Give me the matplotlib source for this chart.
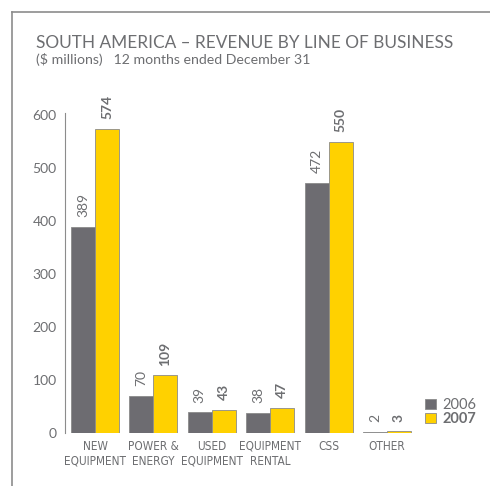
import matplotlib.pyplot as plt
from matplotlib import font_manager
from matplotlib.lines import Line2D
from matplotlib.patches import Patch
import numpy as np

categories = ['NEW\nEQUIPMENT', 'POWER &\nENERGY', 'USED\nEQUIPMENT',
              'EQUIPMENT\nRENTAL', 'CSS', 'OTHER']
rev_2006 = [389, 70, 39, 38, 472, 2]
rev_2007 = [574, 109, 43, 47, 550, 3]
yticks = [0, 100, 200, 300, 400, 500, 600]

GRAY = '#6d6c71'
YELLOW = '#ffd100'
TEXT = '#6d6e71'
LINE = '#8c8c8c'

plt.rcParams['font.family'] = ['Lato', 'DejaVu Sans']


def narrow_font():
    # pick a condensed sans face for the category labels if one is installed
    narrow = ('condensed', 'semi-condensed', 'extra-condensed', 'ultra-condensed')
    found = []
    for f in font_manager.fontManager.ttflist:
        if f.style != 'normal' or f.weight not in (400, 'normal', 'regular'):
            continue
        if 'Narrow' in f.name or 'Condensed' in f.name or f.stretch in narrow:
            if 'Serif' not in f.name and 'Mono' not in f.name:
                found.append(f)
    found.sort(key=lambda f: ('Sans' not in f.name, f.name))
    if found:
        return font_manager.FontProperties(fname=found[0].fname, size=8.5)
    return font_manager.FontProperties(family='Roboto', size=7.3)


cat_fp = narrow_font()

fig = plt.figure(figsize=(4.9, 4.86), dpi=100)
fig.patch.set_facecolor('white')

# frame on the top and left edge
fig.add_artist(Line2D([12 / 490, 1], [1 - 12 / 486, 1 - 12 / 486], color=LINE, lw=1.2))
fig.add_artist(Line2D([12 / 490, 12 / 490], [0, 1 - 12 / 486], color=LINE, lw=1.2))

fig.text(36 / 490, 1 - 48 / 486, 'SOUTH AMERICA \u2013 REVENUE BY LINE OF BUSINESS',
         fontsize=12.4, color=TEXT, va='baseline')
fig.text(36 / 490, 1 - 64 / 486, '($ millions)   12 months ended December 31',
         fontsize=10.2, color=TEXT, va='baseline')

ax = fig.add_axes([65 / 490, 53 / 486, 350 / 490, 320 / 486])
x = np.arange(len(categories))
w = 0.41

ax.bar(x - w / 2, rev_2006, w, color=GRAY, edgecolor='#8a8a8a', linewidth=0.6)
ax.bar(x + w / 2, rev_2007, w, color=YELLOW, edgecolor='#8a8a8a', linewidth=0.6)

for xi, v in zip(x - w / 2, rev_2006):
    ax.annotate(str(v), (xi, v), xytext=(0, 7), textcoords='offset points',
                rotation=90, ha='center', va='bottom', fontsize=10, color=TEXT)
for xi, v in zip(x + w / 2, rev_2007):
    ax.annotate(str(v), (xi, v), xytext=(0, 7), textcoords='offset points',
                rotation=90, ha='center', va='bottom', fontsize=10, color=TEXT,
                fontweight='bold')

ax.set_xlim(-0.514, 5.48)
ax.set_ylim(0, 604)
ax.set_yticks(yticks)
ax.set_yticklabels([str(t) for t in yticks])
ax.tick_params(axis='y', length=0, pad=6, labelsize=10, labelcolor=TEXT)
ax.set_xticks(x)
ax.set_xticklabels(categories, fontproperties=cat_fp, color=TEXT, linespacing=1.2)
ax.tick_params(axis='x', length=0, pad=5)
for s in ['top', 'right', 'bottom']:
    ax.spines[s].set_visible(False)
ax.spines['left'].set_color(LINE)
ax.spines['left'].set_linewidth(0.8)

handles = [Patch(facecolor=GRAY, edgecolor='#8a8a8a', linewidth=0.6),
           Patch(facecolor=YELLOW, edgecolor='#8a8a8a', linewidth=0.6)]
leg = fig.legend(handles, ['2006', '2007'], loc='lower left',
                 bbox_to_anchor=(418 / 490, 53 / 486), frameon=False,
                 fontsize=10.5, handlelength=0.7, handleheight=0.7,
                 handletextpad=0.5, labelspacing=0.0, borderpad=0)
for t in leg.get_texts():
    t.set_color(TEXT)
leg.get_texts()[1].set_fontweight('bold')

fig.savefig('out.png', dpi=100)
